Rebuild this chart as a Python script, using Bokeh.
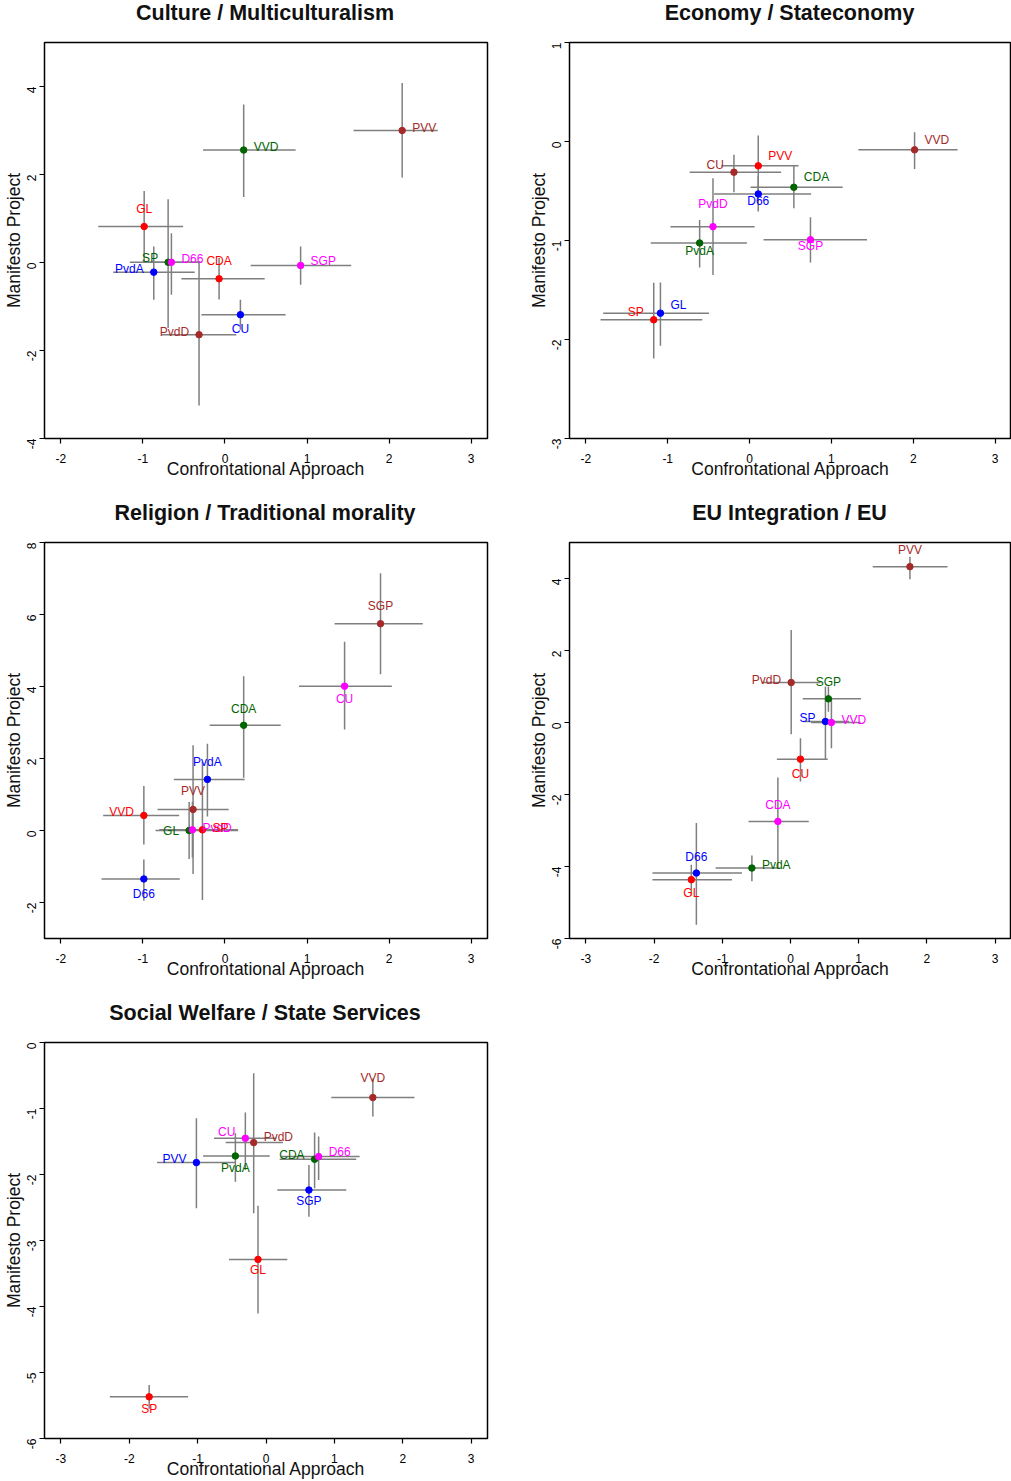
import math
from bokeh.plotting import figure
from bokeh.models import Range1d, FixedTicker, ColumnDataSource, Div
from bokeh.layouts import column, row
from bokeh.embed import file_html
from bokeh.resources import INLINE
from bokeh.core.properties import value

COLORS = {"red": "#FF0000", "darkgreen": "#006400", "blue": "#0000FF",
          "magenta": "#FF00FF", "brown": "#A52A2A"}

# ---------------- Culture / Multiculturalism ----------------
cul_party = ["PVV", "VVD", "GL", "SP", "PvdA", "D66", "CDA", "SGP", "CU", "PvdD"]
cul_x = [2.16, 0.228, -0.985, -0.693, -0.868, -0.653, -0.072, 0.922, 0.188, -0.316]
cul_y = [3.00, 2.556, 0.817, 0.005, -0.219, 0.005, -0.370, -0.068, -1.187, -1.641]
cul_xlo = [1.567, -0.267, -1.545, -1.160, -1.363, -1.00, -0.531, 0.313, -0.287, -0.774]
cul_xhi = [2.594, 0.861, -0.511, -0.287, -0.369, -0.30, 0.484, 1.539, 0.739, 0.139]
cul_ylo = [1.93, 1.49, 0.0, -1.49, -0.847, -0.733, -0.84, -0.507, -1.527, -3.25]
cul_yhi = [4.08, 3.59, 1.626, 1.44, 0.363, 0.665, 0.10, 0.363, -0.847, 0.02]
cul_col = ["brown", "darkgreen", "red", "darkgreen", "blue", "magenta", "red", "magenta", "blue", "brown"]
cul_pos = ["r", "r", "t", "l", "l", "r", "t", "r", "b", "l"]
cul_dy = [-3, -3, -18, -4, -3, -3, -18, -4, 14, -3]

# ---------------- Economy / Stateconomy ----------------
eco_party = ["VVD", "PVV", "CU", "CDA", "D66", "PvdD", "PvdA", "SGP", "GL", "SP"]
eco_x = [2.016, 0.106, -0.191, 0.541, 0.106, -0.447, -0.610, 0.744, -1.089, -1.171]
eco_y = [-0.084, -0.246, -0.310, -0.462, -0.530, -0.860, -1.025, -0.992, -1.734, -1.801]
eco_xlo = [1.329, -0.345, -0.732, 0.012, -0.435, -0.967, -1.207, 0.171, -1.789, -1.821]
eco_xhi = [2.541, 0.598, 0.386, 1.138, 0.752, 0.061, -0.033, 1.435, -0.496, -0.577]
eco_ylo = [-0.277, -0.553, -0.513, -0.675, -0.708, -1.349, -1.272, -1.221, -2.064, -2.192]
eco_yhi = [0.094, 0.061, -0.135, -0.246, -0.352, -0.371, -0.793, -0.766, -1.423, -1.427]
eco_col = ["brown", "red", "brown", "darkgreen", "blue", "magenta", "darkgreen", "magenta", "blue", "red"]
eco_pos = ["r", "r", "l", "r", "b", "t", "b", "b", "r", "l"]
eco_dy = [-10, -10, -7, -10, 7, -23, 8, 6, -8, -8]

# ---------------- Religion / Traditional morality ----------------
rel_party = ["SGP", "CU", "CDA", "PvdA", "PVV", "VVD", "GL", "PvdD", "SP", "D66"]
rel_x = [1.896, 1.458, 0.228, -0.214, -0.389, -0.989, -0.437, -0.397, -0.275, -0.989]
rel_y = [5.745, 4.009, 2.923, 1.420, 0.585, 0.418, 0.0, 0.019, 0.019, -1.346]
rel_xlo = [1.336, 0.902, -0.186, -0.624, -0.823, -1.485, -0.847, -0.80, -0.70, -1.505]
rel_xhi = [2.411, 2.034, 0.679, 0.240, 0.045, -0.559, 0.159, 0.05, 0.16, -0.551]
rel_ylo = [4.343, 2.803, 1.466, 0.390, -1.206, -0.390, -0.789, -0.75, -1.93, -1.95]
rel_yhi = [7.146, 5.244, 4.288, 2.413, 2.367, 1.234, 0.79, 0.80, 1.90, -0.807]
rel_col = ["brown", "magenta", "darkgreen", "blue", "brown", "red", "darkgreen", "magenta", "red", "blue"]
rel_pos = ["t", "b", "t", "t", "t", "l", "l", "r", "r", "b"]
rel_dy = [-18, 13, -16, -17, -18, -3, 0, -2, -2, 15]

# ---------------- EU Integration / EU ----------------
eu_party = ["PVV", "PvdD", "SGP", "SP", "VVD", "CU", "CDA", "PvdA", "D66", "GL"]
eu_x = [1.751, 0.010, 0.556, 0.512, 0.600, 0.146, -0.185, -0.566, -1.380, -1.454]
eu_y = [4.329, 1.110, 0.657, 0.028, 0.0, -1.018, -2.747, -4.043, -4.181, -4.366]
eu_xlo = [1.205, -0.42, 0.180, 0.18, 0.30, -0.200, -0.615, -1.098, -2.024, -2.024]
eu_xhi = [2.302, 0.44, 1.034, 0.86, 1.03, 0.546, 0.268, -0.161, -0.712, -0.859]
eu_ylo = [3.978, -0.324, 0.30, -1.04, -0.712, -1.637, -4.061, -4.413, -5.615, -4.78]
eu_yhi = [4.607, 2.572, 1.00, 1.00, 0.629, -0.435, -1.526, -3.691, -2.794, -3.95]
eu_col = ["brown", "brown", "darkgreen", "blue", "magenta", "red", "magenta", "darkgreen", "blue", "red"]
eu_pos = ["t", "l", "t", "l", "r", "b", "t", "r", "t", "b"]
eu_dy = [-17, -3, -17, -3, -3, 15, -16, -3, -16, 13]

# ---------------- Social Welfare / State Services ----------------
soc_party = ["VVD", "CU", "PvdD", "PvdA", "PVV", "CDA", "D66", "SGP", "GL", "SP"]
soc_x = [1.563, -0.302, -0.180, -0.448, -1.018, 0.711, 0.770, 0.628, -0.117, -1.709]
soc_y = [-0.834, -1.451, -1.517, -1.719, -1.820, -1.769, -1.729, -2.235, -3.286, -5.369]
soc_xlo = [0.955, -0.760, -0.589, -0.920, -1.593, 0.200, 0.224, 0.166, -0.541, -2.284]
soc_xhi = [2.172, 0.150, 0.248, 0.054, -0.453, 1.320, 1.369, 1.174, 0.312, -1.140]
soc_ylo = [-1.122, -1.931, -2.588, -2.108, -2.513, -2.209, -2.083, -2.639, -4.105, -5.55]
soc_yhi = [-0.546, -1.062, -0.465, -1.375, -1.148, -1.365, -1.426, -1.855, -2.472, -5.19]
soc_col = ["brown", "magenta", "brown", "darkgreen", "blue", "darkgreen", "magenta", "blue", "red", "red"]
soc_pos = ["t", "l", "r", "b", "l", "l", "r", "b", "b", "b"]
soc_dy = [-20, -6, -6, 12, -4, -4, -5, 11, 11, 12]

titles = ["Culture / Multiculturalism", "Economy / Stateconomy",
          "Religion / Traditional morality", "EU Integration / EU",
          "Social Welfare / State Services"]

FONT = "Liberation Sans"
BAR = "#7F7F7F"
LW, RW = 525, 486
TITLE_H = 26


def title_div(text, width, frame_w):
    html = ('<div style="margin:0 0 0 43px;padding:0;width:%dpx;height:%dpx;line-height:%dpx;'
            'font-family:\'Liberation Sans\',Arial,sans-serif;font-size:21.5px;font-weight:bold;'
            'text-align:center;color:#111111;white-space:nowrap;">%s</div>'
            % (frame_w, TITLE_H, TITLE_H, text))
    return Div(text=html, width=width, height=TITLE_H, margin=(0, 0, 0, 0),
               styles={"font-size": "0px", "line-height": "0px"})


def panel(party, x, y, xlo, xhi, ylo, yhi, col, pos, dy,
          xr, yr, xticks, yticks, width, height, mbr, mbb):
    p = figure(width=width, height=height, x_range=Range1d(*xr), y_range=Range1d(*yr),
               output_backend="svg", toolbar_location=None,
               min_border_left=43, min_border_right=mbr,
               min_border_top=16, min_border_bottom=mbb)
    p.background_fill_color = "white"
    p.border_fill_color = "white"
    p.outline_line_color = "black"
    p.outline_line_width = 1.5
    p.outline_line_alpha = 1.0
    p.xgrid.visible = False
    p.ygrid.visible = False

    p.segment(x0=xlo, y0=y, x1=xhi, y1=y, line_color=BAR, line_width=1.5)
    p.segment(x0=x, y0=ylo, x1=x, y1=yhi, line_color=BAR, line_width=1.5)
    cols = [COLORS[c] for c in col]
    p.scatter(x=x, y=y, size=6.5, fill_color=cols, line_color=cols)

    for code, align, dx in (("r", "left", 10), ("l", "right", -10),
                            ("t", "center", 0), ("b", "center", 0)):
        idx = [i for i, c in enumerate(pos) if c == code]
        if not idx:
            continue
        src = ColumnDataSource(dict(
            x=[x[i] for i in idx], y=[y[i] for i in idx],
            t=[party[i] for i in idx], c=[cols[i] for i in idx],
            dy=[dy[i] for i in idx]))
        p.text(x="x", y="y", text="t", text_color="c", source=src,
               x_offset=dx, y_offset="dy", text_align=align,
               text_baseline="middle", text_font=value(FONT),
               text_font_size=value("12px"))

    p.xaxis.ticker = FixedTicker(ticks=xticks)
    p.yaxis.ticker = FixedTicker(ticks=yticks)
    p.xaxis.major_label_overrides = {t: str(t) for t in xticks}
    p.yaxis.major_label_overrides = {t: str(t) for t in yticks}
    for ax in (p.xaxis, p.yaxis):
        ax.minor_tick_line_color = None
        ax.major_tick_in = 0
        ax.major_tick_out = 5
        ax.major_tick_line_color = "black"
        ax.major_tick_line_width = 1.2
        ax.axis_line_color = None
        ax.major_label_text_font = FONT
        ax.major_label_text_font_size = "12px"
        ax.major_label_text_color = "black"
        ax.axis_label_text_font = FONT
        ax.axis_label_text_font_size = "17.5px"
        ax.axis_label_text_font_style = "normal"
        ax.axis_label_text_color = "#111111"
    p.xaxis.axis_label = "Confrontational Approach"
    p.yaxis.axis_label = "Manifesto Project"
    p.xaxis.major_label_standoff = 10
    p.xaxis.axis_label_standoff = -7
    p.yaxis.major_label_orientation = math.pi / 2
    p.yaxis.major_label_standoff = 8
    p.yaxis.axis_label_standoff = -4
    return p


XR5 = (-2.2, 3.2)
XR6 = (-3.24, 3.24)

p1 = panel(cul_party, cul_x, cul_y, cul_xlo, cul_xhi, cul_ylo, cul_yhi,
           cul_col, cul_pos, cul_dy, XR5, (-4, 5), [-2, -1, 0, 1, 2, 3], [-4, -2, 0, 2, 4],
           LW, 474, 38, 62)
p2 = panel(eco_party, eco_x, eco_y, eco_xlo, eco_xhi, eco_ylo, eco_yhi,
           eco_col, eco_pos, eco_dy, XR5, (-3, 1), [-2, -1, 0, 1, 2, 3], [-3, -2, -1, 0, 1],
           RW, 474, 0, 62)
p3 = panel(rel_party, rel_x, rel_y, rel_xlo, rel_xhi, rel_ylo, rel_yhi,
           rel_col, rel_pos, rel_dy, XR5, (-3, 8), [-2, -1, 0, 1, 2, 3], [-2, 0, 2, 4, 6, 8],
           LW, 474, 38, 62)
p4 = panel(eu_party, eu_x, eu_y, eu_xlo, eu_xhi, eu_ylo, eu_yhi,
           eu_col, eu_pos, eu_dy, XR6, (-6, 5), [-3, -2, -1, 0, 1, 2, 3], [-6, -4, -2, 0, 2, 4],
           RW, 474, 0, 62)
p5 = panel(soc_party, soc_x, soc_y, soc_xlo, soc_xhi, soc_ylo, soc_yhi,
           soc_col, soc_pos, soc_dy, XR6, (-6, 0), [-3, -2, -1, 0, 1, 2, 3], [-6, -5, -4, -3, -2, -1, 0],
           LW, 455, 38, 43)

d1 = title_div(titles[0], LW, 444)
d2 = title_div(titles[1], RW, 443)
d3 = title_div(titles[2], LW, 444)
d4 = title_div(titles[3], RW, 443)
d5 = title_div(titles[4], LW, 444)

page = column(row(d1, d2), row(p1, p2), row(d3, d4), row(p3, p4), d5, p5)
open("out.html", "w").write(file_html(page, INLINE))
